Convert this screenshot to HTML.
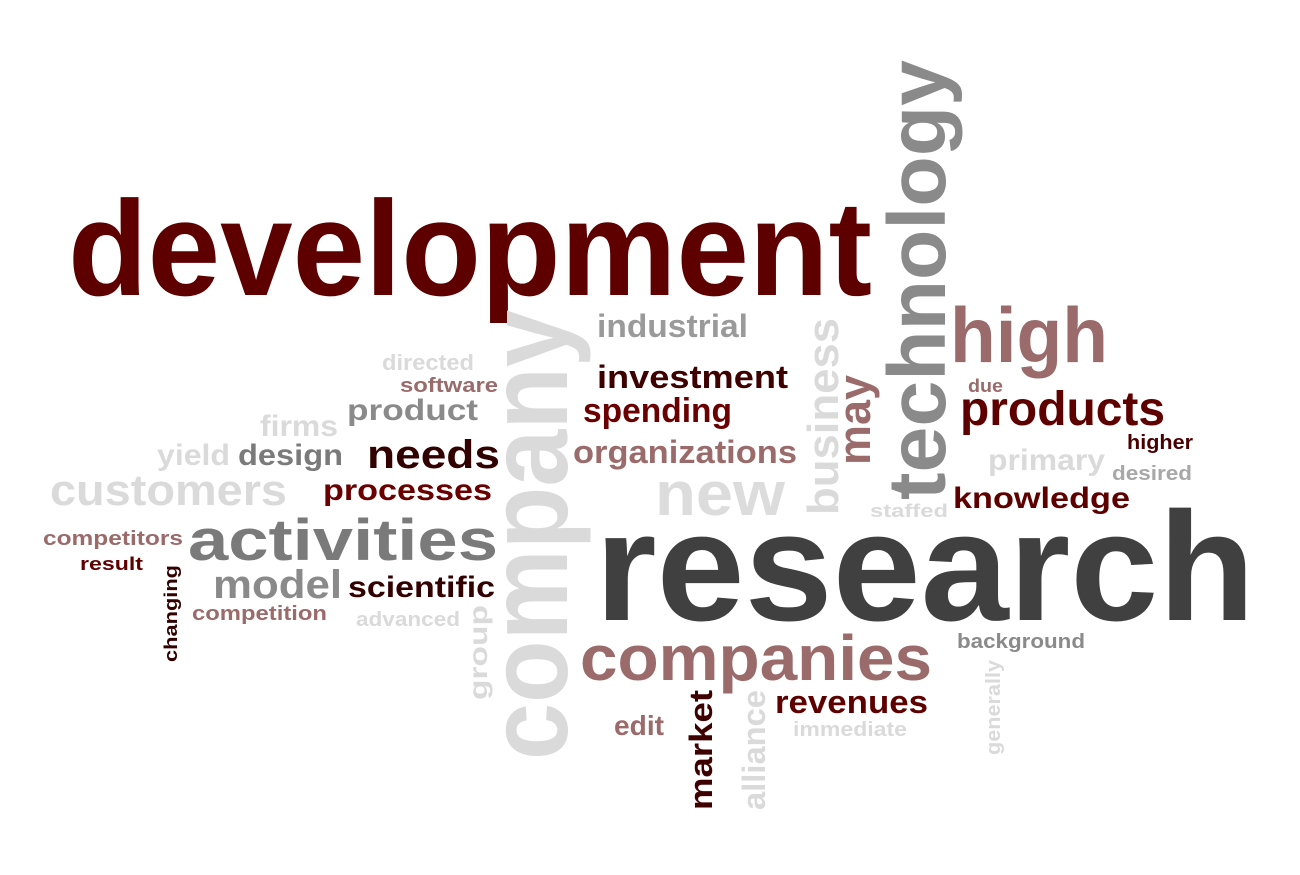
<!DOCTYPE html>
<html><head><meta charset="utf-8"><style>
html,body{margin:0;padding:0;background:#fff;}
svg{display:block;}
text{font-family:"Liberation Sans",sans-serif;font-weight:bold;}
</style></head><body>
<svg width="1300" height="875" viewBox="0 0 1300 875">
<g id="words"></g>
</svg>
<script>
// word, x, y (baseline), width, fontSize, color, vertical
const words = [
["development",68,295,804,135,"#5e0000",0],
["research",595,620,660,155,"#404040",0],
["technology",945,500,440,82,"#8a8a8a",1],
["company",567,760,450,113,"#dadada",1],
["high",950,362,158,78,"#9b6b6b",0],
["products",960,425,205,48,"#5e0000",0],
["industrial",597,337,151,32,"#9a9a9a",0],
["investment",597,388,191,32,"#3f0000",0],
["spending",583,422,149,34,"#6a0000",0],
["organizations",573,463,224,32,"#9b6b6b",0],
["new",655,515,130,62,"#dcdcdc",0],
["business",838,515,197,44,"#dadada",1],
["may",870,465,90,45,"#9b6b6b",1],
["due",968,392,35,18,"#9b6b6b",0],
["higher",1127,449,66,20,"#4a0000",0],
["primary",988,470,117,30,"#dadada",0],
["desired",1112,480,80,20,"#a8a8a8",0],
["staffed",870,517,78,18,"#dadada",0],
["knowledge",953,508,177,30,"#5e0000",0],
["background",957,648,128,20,"#8a8a8a",0],
["generally",1000,755,95,20,"#dadada",1],
["companies",580,680,352,64,"#9b6b6b",0],
["revenues",775,713,153,32,"#5e0000",0],
["immediate",793,736,114,20,"#dadada",0],
["edit",614,735,50,28,"#9b6b6b",0],
["market",712,810,120,32,"#3f0000",1],
["alliance",765,810,120,32,"#dadada",1],
["group",487,700,95,26,"#dadada",1],
["directed",382,370,92,22,"#dadada",0],
["software",400,392,98,20,"#9b6b6b",0],
["product",347,420,131,30,"#8a8a8a",0],
["firms",260,436,78,30,"#dadada",0],
["yield",157,465,73,30,"#dadada",0],
["design",238,465,105,30,"#7a7a7a",0],
["needs",367,468,133,40,"#330000",0],
["customers",50,505,237,44,"#dadada",0],
["processes",323,500,169,30,"#6a0000",0],
["activities",188,560,310,58,"#7a7a7a",0],
["competitors",43,545,140,20,"#9b6b6b",0],
["result",80,570,63,18,"#5e0000",0],
["changing",177,662,97,18,"#330000",1],
["model",213,598,129,40,"#8a8a8a",0],
["scientific",348,597,147,30,"#330000",0],
["competition",192,620,135,20,"#9b6b6b",0],
["advanced",356,626,104,20,"#dadada",0]
];
const g=document.getElementById('words');
const NS="http://www.w3.org/2000/svg";
words.forEach(w=>{
  const t=document.createElementNS(NS,'text');
  t.textContent=w[0];
  t.setAttribute('font-size',w[4]);
  t.setAttribute('fill',w[5]);
  t.setAttribute('textLength',w[3]);
  t.setAttribute('lengthAdjust','spacingAndGlyphs');
  if(w[6]){t.setAttribute('transform','translate('+w[1]+','+w[2]+') rotate(-90)');t.setAttribute('x',0);t.setAttribute('y',0);}
  else{t.setAttribute('x',w[1]);t.setAttribute('y',w[2]);}
  
  
  g.appendChild(t);
});
</script>
</body></html>
